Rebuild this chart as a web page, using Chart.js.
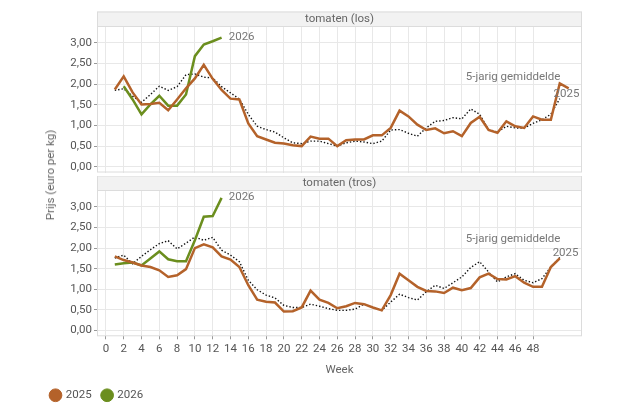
<!DOCTYPE html>
<html lang="nl">
<head>
<meta charset="UTF-8">
<title>Tomaten prijzen</title>
<style>
  body { margin: 0; background: #fff; font-family: Roboto, sans-serif; }
  #wrap { position: relative; width: 626px; height: 417px; }
  .panel { position: absolute; left: 0; width: 626px; }
  #ytitle {
    position: absolute; left: 50px; top: 175px;
    transform: translate(-50%, -50%) rotate(-90deg);
    font-size: 11.5px; color: #666; white-space: nowrap;
  }
</style>
</head>
<body>
<div id="wrap">
  <div class="panel" style="top:0;height:176px"><canvas id="topChart"></canvas></div>
  <div class="panel" style="top:176px;height:241px"><canvas id="botChart"></canvas></div>
  <div id="ytitle">Prijs (euro per kg)</div>
</div>

<script src="https://cdn.jsdelivr.net/npm/chart.js"></script>
<script>
// tick labels
const XTICKS = [0, 2, 4, 6, 8, 10, 12, 14, 16, 18, 20, 22, 24, 26, 28, 30, 32, 34, 36, 38, 40, 42, 44, 46, 48];
const YTICKS = [0, 0.5, 1, 1.5, 2, 2.5, 3];

// tomaten (los), week 1 onwards
const LOS_2025 = [1.87, 2.19, 1.80, 1.51, 1.52, 1.55, 1.37, 1.63, 1.90, 2.14, 2.47, 2.13, 1.86, 1.65, 1.63, 1.05,
  0.74, 0.66, 0.58, 0.56, 0.52, 0.50, 0.73, 0.68, 0.68, 0.50, 0.64, 0.66, 0.66, 0.76, 0.76, 0.94,
  1.36, 1.22, 1.02, 0.89, 0.93, 0.81, 0.86, 0.74, 1.06, 1.21, 0.89, 0.82, 1.10, 0.98, 0.94, 1.22,
  1.14, 1.14, 2.02, 1.90];
const LOS_2026 = [null, 1.95, 1.63, 1.27, 1.51, 1.72, 1.48, 1.48, 1.75, 2.68, 2.96, 3.04, 3.13];
const LOS_5JR = [1.85, 1.89, 1.71, 1.56, 1.75, 1.95, 1.85, 1.94, 2.23, 2.25, 2.17, 2.15, 1.94, 1.79, 1.64, 1.27,
  0.98, 0.90, 0.84, 0.70, 0.58, 0.56, 0.62, 0.62, 0.56, 0.50, 0.58, 0.62, 0.60, 0.56, 0.62, 0.89,
  0.90, 0.81, 0.74, 0.94, 1.10, 1.12, 1.19, 1.16, 1.40, 1.27, 0.90, 0.84, 0.98, 0.94, 0.94, 1.05,
  1.14, 1.27, 1.65];

// tomaten (tros)
const TROS_2025 = [1.80, 1.71, 1.65, 1.58, 1.54, 1.46, 1.30, 1.34, 1.49, 2.00, 2.09, 2.02, 1.80, 1.72, 1.54, 1.10,
  0.75, 0.70, 0.68, 0.46, 0.47, 0.56, 0.97, 0.75, 0.67, 0.54, 0.59, 0.67, 0.64, 0.56, 0.49, 0.86,
  1.38, 1.22, 1.06, 0.96, 0.95, 0.91, 1.04, 0.98, 1.03, 1.29, 1.38, 1.25, 1.24, 1.32, 1.16, 1.06,
  1.06, 1.54, 1.75];
const TROS_2026 = [1.60, 1.63, 1.65, 1.58, 1.75, 1.92, 1.73, 1.68, 1.68, 2.19, 2.76, 2.78, 3.22];
const TROS_5JR = [1.76, 1.83, 1.62, 1.80, 1.96, 2.11, 2.18, 1.98, 2.12, 2.27, 2.19, 2.26, 1.95, 1.83, 1.67, 1.22,
  0.99, 0.86, 0.79, 0.61, 0.56, 0.56, 0.64, 0.59, 0.53, 0.49, 0.49, 0.52, 0.64, 0.56, 0.49, 0.69,
  0.88, 0.80, 0.74, 0.94, 1.10, 1.02, 1.16, 1.30, 1.53, 1.67, 1.42, 1.18, 1.30, 1.38, 1.22, 1.16,
  1.26, 1.54, 1.77];

const C2025 = '#b4622a';
const C2026 = '#6b8e1e';
const TXT = '#666';
const FONT = 'Roboto';

function pts(vals) {
  return vals.map((v, i) => ({ x: i + 1, y: v }));
}

function datasets(v25, v26, v5) {
  return [
    { label: '2025', data: pts(v25), borderColor: C2025, backgroundColor: C2025, borderWidth: 2.5 },
    { label: '2026', data: pts(v26), borderColor: C2026, backgroundColor: C2026, borderWidth: 2.5 },
    { label: '5-jarig gemiddelde', data: pts(v5), borderColor: '#111', backgroundColor: '#111',
      borderWidth: 1.4, borderDash: [1.4, 2] }
  ];
}

// strip header, panel border and the end-of-line labels
const panelDeco = {
  id: 'panelDeco',
  beforeDraw(chart, args, opts) {
    const { ctx, chartArea: a } = chart;
    const h = opts.strip;
    ctx.save();
    ctx.fillStyle = '#f2f2f2';
    ctx.fillRect(a.left, a.top - h, a.right - a.left, h);
    ctx.strokeStyle = '#dcdcdc';
    ctx.lineWidth = 1;
    ctx.strokeRect(a.left + 0.5, a.top - h + 0.5, a.right - a.left - 1, h);
    ctx.fillStyle = TXT;
    ctx.font = '11.5px ' + FONT;
    ctx.textAlign = 'center';
    ctx.textBaseline = 'middle';
    ctx.fillText(opts.title, (a.left + a.right) / 2, a.top - h / 2 + 0.5);
    ctx.restore();
  },
  afterDraw(chart, args, opts) {
    const { ctx, chartArea: a, scales } = chart;
    ctx.save();
    ctx.strokeStyle = '#dcdcdc';
    ctx.lineWidth = 1;
    ctx.strokeRect(a.left + 0.5, a.top + 0.5, a.right - a.left - 1, a.bottom - a.top - 1);
    ctx.font = '11.5px ' + FONT;
    ctx.fillStyle = '#777';
    ctx.textAlign = 'left';
    ctx.textBaseline = 'middle';
    opts.labels.forEach(l => {
      ctx.fillText(l.text, scales.x.getPixelForValue(l.x), scales.y.getPixelForValue(l.y));
    });
    ctx.restore();
  }
};

function noPad(s) {
  s.paddingTop = 0; s.paddingBottom = 0; s.paddingLeft = 0; s.paddingRight = 0;
}

function options(isBottom, title, labels) {
  return {
    responsive: true,
    maintainAspectRatio: false,
    animation: false,
    elements: { point: { radius: 0 }, line: { tension: 0 } },
    layout: { padding: isBottom ? { left: 40, right: 44, top: 14, bottom: 6 } : { left: 40, right: 44, top: 26, bottom: 3.5 } },
    scales: {
      x: {
        type: 'linear', min: -1, max: 53.5,
        afterBuildTicks: s => { s.ticks = XTICKS.map(v => ({ value: v })); },
        afterFit: s => { s.height = isBottom ? 42.2 : 0; noPad(s); },
        border: { display: false },
        grid: { color: '#e8e8e8', drawTicks: isBottom, tickLength: 3, tickColor: '#999' },
        ticks: { display: isBottom, color: '#555', padding: 3, maxRotation: 0, autoSkip: false,
          font: { family: FONT, size: 11.5 } },
        title: { display: isBottom, text: 'Week', color: TXT, padding: { top: 2, bottom: 1 },
          font: { family: FONT, size: 11.5 } }
      },
      y: {
        min: -0.14, max: 3.41,
        afterBuildTicks: s => { s.ticks = YTICKS.map(v => ({ value: v })); },
        afterFit: s => { s.width = 57; noPad(s); },
        border: { display: false },
        grid: { color: '#e8e8e8', tickLength: 3, tickColor: '#999' },
        ticks: { color: '#555', padding: 2, font: { family: FONT, size: 11.5 },
          callback: v => v.toFixed(2).replace('.', ',') }
      }
    },
    plugins: {
      tooltip: { enabled: false },
      legend: {
        display: isBottom,
        position: 'bottom',
        align: 'start',
        labels: {
          usePointStyle: true,
          pointStyle: 'circle',
          boxWidth: 9, boxHeight: 9,
          padding: 11,
          color: '#555',
          font: { family: FONT, size: 11.5 },
          generateLabels: chart => Chart.defaults.plugins.legend.labels.generateLabels(chart)
            .filter(it => it.text !== '5-jarig gemiddelde')
            .map(it => Object.assign(it, { lineWidth: 1, strokeStyle: it.fillStyle })),
        }
      },
      panelDeco: { strip: 14.5, title, labels }
    }
  };
}

new Chart(document.getElementById('topChart'), {
  type: 'line',
  data: { datasets: datasets(LOS_2025, LOS_2026, LOS_5JR) },
  options: options(false, 'tomaten (los)', [
    { text: '2026', x: 13.8, y: 3.14 },
    { text: '5-jarig gemiddelde', x: 40.45, y: 2.18 },
    { text: '2025', x: 50.3, y: 1.75 }
  ]),
  plugins: [panelDeco]
});

new Chart(document.getElementById('botChart'), {
  type: 'line',
  data: { datasets: datasets(TROS_2025, TROS_2026, TROS_5JR) },
  options: options(true, 'tomaten (tros)', [
    { text: '2026', x: 13.8, y: 3.24 },
    { text: '5-jarig gemiddelde', x: 40.45, y: 2.21 },
    { text: '2025', x: 50.2, y: 1.89 }
  ]),
  plugins: [panelDeco]
});
</script>
</body>
</html>
